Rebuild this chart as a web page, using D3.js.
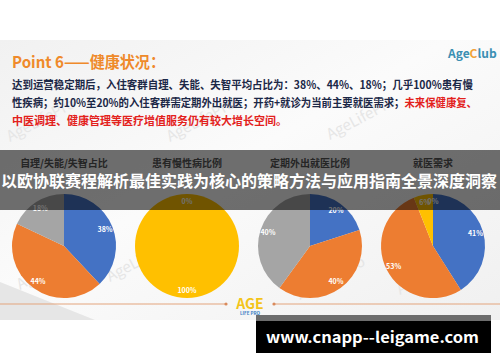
<!DOCTYPE html>
<html>
<head>
<meta charset="utf-8">
<script src="https://cdn.jsdelivr.net/npm/d3@7"></script>
<style>
  html, body { margin: 0; padding: 0; background: #fff; }
  svg { display: block; }
  text { font-family: "Noto Sans CJK SC", "Noto Sans", sans-serif; }
</style>
</head>
<body>
<div id="chart"></div>
<script>
// --- data ---
const pieTitles = ['自理/失能/失智占比', '患有慢性病比例', '定期外出就医比例', '就医需求'];
const careValues = [38, 44, 18];          // 自理 / 失能 / 失智
const chronicValues = [100, 0];           // 患有 / 未患有
const outingValues = [20, 40, 40];
const needValues = [41, 53, 6, 0];
const careColors = ['#4472c4', '#ed7d31', '#a5a5a5'];
const chronicColors = ['#ffc000', '#a5a5a5'];
const outingColors = ['#4472c4', '#ed7d31', '#a5a5a5'];
const needColors = ['#4472c4', '#ed7d31', '#ffc000', '#a5a5a5'];

const pies = [
  { title: pieTitles[0], values: careValues, colors: careColors },
  { title: pieTitles[1], values: chronicValues, colors: chronicColors },
  { title: pieTitles[2], values: outingValues, colors: outingColors },
  { title: pieTitles[3], values: needValues, colors: needColors }
];

const titleText = 'Point 6——健康状况：';
const bodyLines = [
  [{ t: '达到运营稳定期后，入住客群自理、失能、失智平均占比为：38%、44%、18%；几乎100%患有慢', red: false }],
  [{ t: '性疾病；约10%至20%的入住客群需定期外出就医；开药+就诊为当前主要就医需求；', red: false },
   { t: '未来保健康复、', red: true }],
  [{ t: '中医调理、健康管理等医疗增值服务仍有较大增长空间。', red: true }]
];
const bannerText = '以欧协联赛程解析最佳实践为核心的策略方法与应用指南全景深度洞察';
const urlText = 'www.cnapp--leigame.com';

const W = 500, H = 362;
const svg = d3.select('#chart').append('svg').attr('width', W).attr('height', H);

// slide background
const defs = svg.append('defs');
const grad = defs.append('linearGradient').attr('id', 'slideBg')
  .attr('x1', 0).attr('y1', 0).attr('x2', 1).attr('y2', 1);
grad.append('stop').attr('offset', '0%').attr('stop-color', '#f1f1f1');
grad.append('stop').attr('offset', '45%').attr('stop-color', '#fbfbfb');
grad.append('stop').attr('offset', '100%').attr('stop-color', '#f0f0f0');
svg.append('rect').attr('x', 0).attr('y', 40).attr('width', W).attr('height', 280)
  .attr('fill', 'url(#slideBg)');
svg.append('path').attr('d', 'M0,282 L95,320 L0,320 Z').attr('fill', '#e6e6e6');

// faint watermarks
const marks = [[10, 142], [170, 142], [330, 140], [20, 290], [110, 282], [300, 300], [400, 295]];
svg.append('g').selectAll('text').data(marks).join('text')
  .attr('transform', d => `translate(${d[0]},${d[1]}) rotate(-28)`)
  .attr('font-size', 15).attr('fill', '#e6e6e6')
  .attr('font-family', 'Roboto, sans-serif')
  .text('AgeLifePro');

// title + logo
svg.append('text').attr('x', 12).attr('y', 68)
  .attr('font-size', 16).attr('font-weight', 700).attr('fill', '#ef8a2b')
  .attr('textLength', 153).attr('lengthAdjust', 'spacingAndGlyphs')
  .text(titleText);
const logo = svg.append('text').attr('x', 448).attr('y', 58)
  .attr('font-size', 12).attr('font-weight', 700)
  .attr('font-family', '"Liberation Serif", "DejaVu Serif", serif');
logo.append('tspan').attr('fill', '#3b8fb3').text('Age');
logo.append('tspan').attr('fill', '#f2a33a').text('C');
logo.append('tspan').attr('fill', '#3b8fb3').text('lub');

// body text
const lineY = [89, 107, 125];
const lineLen = [461, 465, null];
bodyLines.forEach((parts, i) => {
  const t = svg.append('text').attr('x', 12).attr('y', lineY[i])
    .attr('font-size', 11).attr('font-weight', 700);
  if (lineLen[i]) t.attr('textLength', lineLen[i]).attr('lengthAdjust', 'spacingAndGlyphs');
  parts.forEach(p => t.append('tspan').attr('fill', p.red ? '#e3211c' : '#1c2847').text(p.t));
});

// pies
const R = 52;
const cx = d3.scalePoint().domain(pieTitles).range([64, 433]);
const cy = 246;
const pie = d3.pie().sort(null).value(d => d);
const arc = d3.arc().innerRadius(0).outerRadius(R);
const labelArc = d3.arc().innerRadius(R * 0.85).outerRadius(R * 0.85);

pies.forEach(p => {
  svg.append('text').attr('x', cx(p.title)).attr('y', 167)
    .attr('text-anchor', 'middle').attr('font-size', 10).attr('font-weight', 700)
    .attr('fill', '#555').text(p.title);

  const g = svg.append('g').attr('transform', `translate(${cx(p.title)},${cy})`);
  const arcs = pie(p.values);
  g.selectAll('path').data(arcs).join('path')
    .attr('d', arc).attr('fill', (d, i) => p.colors[i]);
  g.selectAll('text').data(arcs).join('text')
    .attr('transform', d => `translate(${labelArc.centroid(d)})`)
    .attr('text-anchor', 'middle').attr('dy', '0.35em')
    .attr('font-size', 7).attr('font-weight', 700).attr('fill', '#fff')
    .attr('font-family', '"DejaVu Sans", sans-serif')
    .text(d => d.data + '%');
});

// bottom divider with logo
const divider = svg.append('g').attr('stroke', '#e3a47c').attr('stroke-width', 1);
divider.append('line').attr('x1', 0).attr('x2', 226).attr('y1', 304).attr('y2', 304);
divider.append('line').attr('x1', 274).attr('x2', 500).attr('y1', 304).attr('y2', 304);
svg.selectAll('circle.dot').data([226, 274]).join('circle').attr('class', 'dot')
  .attr('cx', d => d).attr('cy', 304).attr('r', 1.6).attr('fill', '#d98a5c');
svg.append('text').attr('x', 250).attr('y', 309).attr('text-anchor', 'middle')
  .attr('font-size', 14).attr('font-weight', 700).attr('fill', '#f3c419')
  .attr('font-family', '"DejaVu Sans", sans-serif').text('AGE');
svg.append('text').attr('x', 250).attr('y', 315).attr('text-anchor', 'middle')
  .attr('font-size', 4.5).attr('font-weight', 700).attr('fill', '#3b7fc4')
  .attr('font-family', '"DejaVu Sans", sans-serif').text('LIFE PRO');

// dark banner overlay
svg.append('rect').attr('x', 0).attr('y', 150).attr('width', W).attr('height', 60)
  .attr('fill', '#000').attr('opacity', 0.56);
svg.append('text').attr('x', 1).attr('y', 187)
  .attr('font-size', 16).attr('font-weight', 700).attr('fill', '#fff')
  .attr('textLength', 496).attr('lengthAdjust', 'spacingAndGlyphs')
  .text(bannerText);

// url box
svg.append('rect').attr('x', 256).attr('y', 315).attr('width', 235).attr('height', 38).attr('fill', '#000');
svg.append('rect').attr('x', 256).attr('y', 315).attr('width', 235).attr('height', 6).attr('fill', '#6d6d6d');
svg.append('text').attr('x', 266).attr('y', 343)
  .attr('font-size', 15).attr('font-weight', 700).attr('fill', '#fff')
  .attr('font-family', '"DejaVu Sans", Verdana, sans-serif')
  .attr('textLength', 213).attr('lengthAdjust', 'spacingAndGlyphs')
  .text(urlText);
</script>
</body>
</html>
